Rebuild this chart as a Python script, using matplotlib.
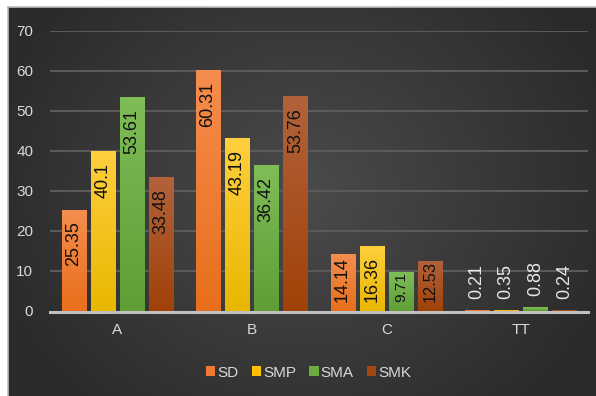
import numpy as np
import matplotlib
matplotlib.use("Agg")
import matplotlib.pyplot as plt
from matplotlib.colors import LinearSegmentedColormap

categories = ["A", "B", "C", "TT"]
series = ["SD", "SMP", "SMA", "SMK"]
SD = [25.35, 60.31, 14.14, 0.21]
SMP = [40.1, 43.19, 16.36, 0.35]
SMA = [53.61, 36.42, 9.71, 0.88]
SMK = [33.48, 53.76, 12.53, 0.24]
values = [SD, SMP, SMA, SMK]
yticks = [0, 10, 20, 30, 40, 50, 60, 70]

top_cols = ["#f58d4e", "#ffcf3e", "#7fbd57", "#b2623c"]
bot_cols = ["#e86f1c", "#e9b700", "#5e9e34", "#a04208"]
legend_cols = ["#f07a30", "#ffc000", "#6aad3e", "#a5480f"]

W, H = 596, 396
DPI = 100
PT = 72.0 / DPI  # points per pixel
fig = plt.figure(figsize=(W/DPI, H/DPI), dpi=DPI)
fig.patch.set_facecolor("white")

# background panel with radial gradient
bg = fig.add_axes([8/W, 0, 1 - 8/W, 1 - 7/H])
bg.set_axis_off()
yy, xx = np.mgrid[0:200, 0:300]
cx, cy = 150, 95
d = np.sqrt(((xx - cx) / 170.0) ** 2 + ((yy - cy) / 150.0) ** 2)
d = np.clip(d, 0, 1)
bgcmap = LinearSegmentedColormap.from_list("bg", ["#4b4b4b", "#2a2a2a"])
bg.imshow(d, cmap=bgcmap, aspect="auto", extent=[0, 1, 0, 1], vmin=0, vmax=1)
bg.set_xlim(0, 1)
bg.set_ylim(0, 1)
bg.plot([0, 0], [0, 1], color="#bdbdbd", lw=1.2, transform=bg.transAxes, clip_on=False)
bg.plot([0, 1], [1, 1], color="#bdbdbd", lw=1.2, transform=bg.transAxes, clip_on=False)

ax_h_px = 280.0
ax = fig.add_axes([50/W, (H - 311)/H, 538/W, ax_h_px/H])
ax.set_facecolor("none")
ax.set_xlim(-0.5, 3.5)
ax.set_ylim(0, 70)
px_per_unit = ax_h_px / 70.0
for s in ax.spines.values():
    s.set_visible(False)
ax.set_yticks(yticks)
ax.set_yticklabels([str(t) for t in yticks], color="#d9d9d9", fontsize=11,
                   family="Liberation Sans")
ax.tick_params(axis="y", length=0, pad=12)
ax.set_xticks(range(len(categories)))
ax.set_xticklabels(categories, color="#d9d9d9", fontsize=11, family="Liberation Sans")
ax.tick_params(axis="x", length=0, pad=9)
for t in yticks[1:]:
    ax.axhline(t, color="#5a5a5a", lw=1.5, zorder=0)
ax.plot([-0.5, 3.5], [-0.25, -0.25], color="#c0c0c0", lw=2.2, zorder=1, clip_on=False)


def label_em(s):
    # approximate Arial advance widths in em
    w = 0.0
    for ch in s:
        w += 0.278 if ch == "." else 0.556
    return w


x = np.arange(len(categories))
pitch = 0.2164
width = 0.179
for i, (name, vals) in enumerate(zip(series, values)):
    pos = x + (i - 1.5) * pitch
    bars = ax.bar(pos, vals, width, color=legend_cols[i], label=name, zorder=2,
                  edgecolor="none")
    cmap = LinearSegmentedColormap.from_list("g%d" % i, [bot_cols[i], top_cols[i]])
    for b, v, p in zip(bars, vals, pos):
        grad = np.linspace(0, 1, 100).reshape(-1, 1)
        im = ax.imshow(grad, cmap=cmap, aspect="auto", origin="lower",
                       extent=[p - width/2, p + width/2, 0, v], zorder=3)
        im.set_clip_path(b)
        txt = f"{v:g}"
        em = label_em(txt)
        bar_px = v * px_per_unit
        if v > 5:
            em_px = min(18.0, (bar_px - 9) / em)
            tlen = em_px * em
            off_px = max(0.0, min(12.0, bar_px - 9 - tlen))
            ax.annotate(txt, (p, v), xytext=(0, -off_px * PT), textcoords="offset points",
                        rotation=90, ha="center", va="top", fontsize=em_px * PT,
                        color="#111111", family="Liberation Sans", zorder=6)
        else:
            ax.annotate(txt, (p, v), xytext=(0, 11 * PT), textcoords="offset points",
                        rotation=90, ha="center", va="bottom", fontsize=18 * PT,
                        color="#e8e8e8", family="Liberation Sans", zorder=6)
ax.set_xlim(-0.5, 3.5)
ax.set_ylim(0, 70)

leg = ax.legend(loc="center", bbox_to_anchor=(0.481, -0.22), ncol=4, frameon=False,
                handlelength=0.6, handleheight=0.6, handletextpad=0.15, columnspacing=0.85,
                prop={"family": "Liberation Sans", "size": 11})
for t in leg.get_texts():
    t.set_color("#d9d9d9")

fig.savefig("out.png", dpi=DPI, facecolor=fig.get_facecolor())
